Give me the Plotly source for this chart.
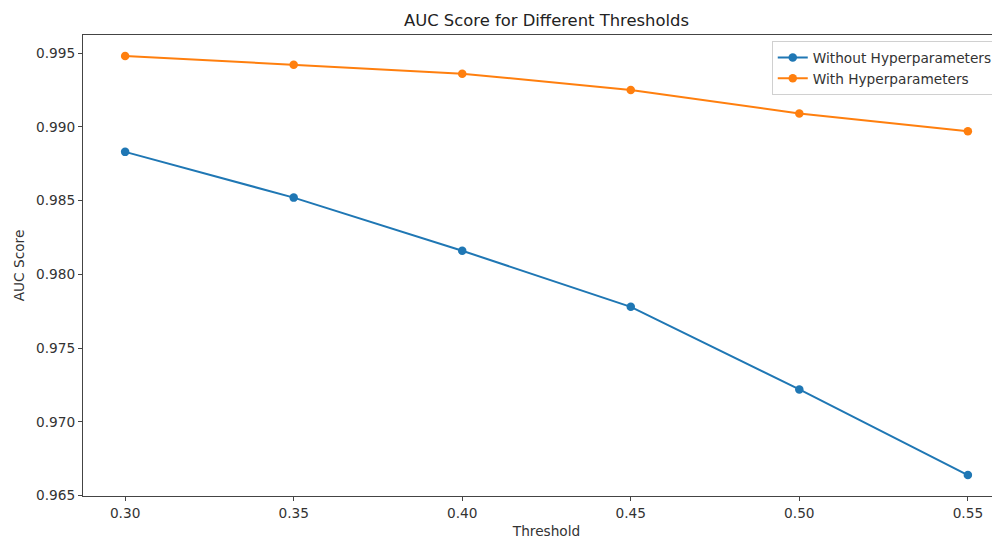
import plotly.graph_objects as go

thresholds = [0.30, 0.35, 0.40, 0.45, 0.50, 0.55]
without_hp = [0.9883, 0.9852, 0.9816, 0.9778, 0.9722, 0.9664]
with_hp = [0.9948, 0.9942, 0.9936, 0.9925, 0.9909, 0.9897]
x_ticks = [0.30, 0.35, 0.40, 0.45, 0.50, 0.55]
y_ticks = [0.965, 0.970, 0.975, 0.980, 0.985, 0.990, 0.995]

font = "DejaVu Sans"
W, H = 1002, 531
fig = go.Figure()
fig.add_trace(go.Scatter(x=thresholds, y=without_hp, mode="lines+markers",
                         name="Without Hyperparameters",
                         line=dict(color="#1f77b4", width=2),
                         marker=dict(size=8.5, color="#1f77b4")))
fig.add_trace(go.Scatter(x=thresholds, y=with_hp, mode="lines+markers",
                         name="With Hyperparameters",
                         line=dict(color="#ff7f0e", width=2),
                         marker=dict(size=8.5, color="#ff7f0e")))

fig.update_layout(
    width=W, height=H,
    margin=dict(l=75, r=0, t=27, b=43, autoexpand=False),
    paper_bgcolor="white", plot_bgcolor="white",
    font=dict(family=font, size=13.7, color="#333"),
    title=dict(text="AUC Score for Different Thresholds", x=0.5,
               xanchor="center", xref="paper", y=1 - 12 / H, yanchor="middle",
               font=dict(size=16.4, color="#222")),
    legend=dict(x=0.743, y=0.987, xanchor="left", yanchor="top",
                bordercolor="#d0d0d0", borderwidth=1, bgcolor="white",
                font=dict(size=13.7, color="#333"), tracegroupgap=0),
    showlegend=True,
)
fig.update_xaxes(range=[0.2875, 0.5625], tickvals=x_ticks,
                 ticktext=[f"{v:.2f}" for v in x_ticks],
                 showgrid=False, zeroline=False, showline=True,
                 linecolor="#444", linewidth=1.2, mirror=True,
                 ticks="outside", ticklen=4, tickcolor="#444", automargin=False,
                 title=dict(text="Threshold", standoff=7, font=dict(size=13.7)))
fig.update_yaxes(range=[0.96498, 0.99622], tickvals=y_ticks,
                 ticktext=[f"{v:.3f}" for v in y_ticks],
                 showgrid=False, zeroline=False, showline=True,
                 linecolor="#444", linewidth=1.2, automargin=False,
                 ticks="outside", ticklen=4, tickcolor="#444",
                 title=dict(text="AUC Score", standoff=8, font=dict(size=13.7)))

fig.write_html("out.html")
